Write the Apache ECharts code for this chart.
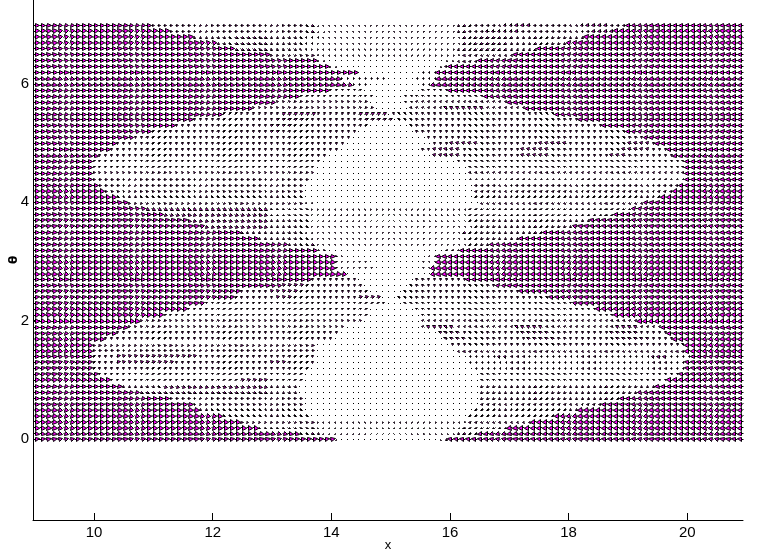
<!DOCTYPE html>
<html><head><meta charset="utf-8">
<style>html,body{margin:0;padding:0;background:#fff}#c{width:770px;height:560px}</style>
<script src="https://cdn.jsdelivr.net/npm/echarts@6/dist/echarts.min.js"></script>
</head><body><div id="c"></div>
<script>
var xTicks=[10,12,14,16,18,20];
var yTicks=[0,2,4,6];
var xMin=8.97,xMax=20.94,yMin=-1.369,yMax=7.419;
var nCols=121;
var thetaTop=7.0,thetaStep=0.1;
// arrow kinds: [|u|, v] in axis units (|u| always points toward the centre)
var kinds={
S:[.10,0],P:[.098,.01],D:[.098,-.01],
T:[.062,-.022],t:[.042,-.018],h:[.022,-.018],
M:[.062,0],m:[.045,-.003],n:[.03,0],
F:[.062,.022],f:[.04,.018],g:[.022,.018],
v:[.003,-.022],w:[.002,-.012],b:[.002,.012],
o:[.01,0],'.':[.003,0]
};
// run lengths per row, top row first. Left half runs from the left edge inward
var leftRuns=[
"D20 m26 t2 h1 v12","P23 m23 t2 h2 v11","P27 t7 T6 t6 h3 v12","P31 t3 T6 t6 h2 v13","P34 T6 t5 h2 v14",
"P40 t8 h1 v12","P48 h2 w11","P50 h2 w9","S55 o6","D52 n8 o1","D54 n3 o4","D50 f6 .5","D45 f11 g2 .3","D41 f16 b4",
"D37 f21 b3","D32 f10 F6 f7 F5 b1","P27 f14 F5 f10 F5","P24 f16 F4 f13 b4","P20 f20 F2 f13 o6","P17 f37 o7","P14 f39 o8",
"S13 f39 o9","D11 f39 o11","D10 f39 o12","D10 f38 o13","D10 f38 o13","D10 m37 .14","D11 m35 .15","D12 m34 .15","D14 m32 w15",
"P16 t30 h2 w13","P19 T21 t7 v14","P22 T18 t7 v14","P26 T14 t7 v14","P29 T11 t7 v14",
"D35 t11 h2 v13","D38 t9 h1 v13","D43 t5 v13","D48 n2 w11","D51 n2 o8","D51 n6 .4","D51 n7 .3","D53 o8","S47 f8 o6",
"P42 F4 f10 o5","P35 f5 F5 f12 o4","P34 f7 F3 f11 F4 o2","P29 f31 b1","P26 f31 o4","P22 f35 o4","S18 f38 o5","D16 f37 o8",
"D14 f38 o9","D12 f39 o10","D10 t38 o13","D10 m38 .13","P10 f4 F14 f20 .13","P10 f4 F10 f16 F3 f5 .13","P10 f37 .14","P11 f35 o15",
"P13 f22 F5 f6 o15","D15 t7 T18 t5 o16","D18 T22 t5 o16","D23 m23 o15","D27 m19 .15","D28 m18 .15","D32 m15 w14","D35 t13 v13","D38 t10 v13","D45 t4 v12","P51 h1 w9"
];
// Right half runs from the right edge inward
var rightRuns=[
"D20 m3 M5 m8 M5 m5 t3 v11","P22 M4 m12 M6 m3 t2 v11","P27 t12 T7 t2 v12","P30 t10 T6 t2 v12","P35 t5 T6 t3 v11",
"P39 t9 h1 v11","P45 t4 h2 w9","P50 m1 h1 w8","S52 n3 o5","D52 n4 o4","D53 n2 o5","D50 f5 o5","D44 f12 g2 o2","D40 f16 g2 b2",
"D37 f7 F7 f6 b3","D32 f28","P28 f31 b1","P24 f33 b3","P20 f36 b4","P17 f37 o6","P15 f1 F4 f10 F5 f10 F5 f3 o7",
"S13 f3 F5 f12 F5 f10 F5 f2 o5","D12 f8 F3 f10 F5 f10 F5 o7","D10 f39 o11","D10 f37 o13","D10 f37 o13","D10 n37 .13","D11 m35 .14","D12 m34 .14","D14 m32 w14",
"P17 t28 w15","P19 t28 v13","P22 t25 v13","P26 t21 v13","P29 t17 v14",
"D34 t14 v12","D38 t9 h1 v12","D43 t4 v13","D48 n3 w9","D52 n2 o6","D52 n3 o5","D53 n2 o5","D53 o7","S47 f9 o4",
"P42 f15 o3","P38 f20 b2","P33 f26 b1","P29 f29 b2","P25 f31 o4","P22 f33 o5","S18 f37 o5","D14 f4 F4 f12 F5 f10 F5 f1 o5",
"D13 f5 F5 f10 F5 f10 F4 o8","D12 f4 F6 f10 F5 f10 F4 o9","D10 f40 o10","D10 t39 o11","P9 n4 M3 n24 M2 n5 .13","P10 n37 .13","P10 n36 .14","P11 f34 .15",
"P13 f32 o15","D15 t30 o15","D18 t27 o15","D21 t24 o15","D24 m21 .15","D28 m18 .14","D32 m15 w13","D36 t11 h1 v12","D40 t8 v12","D45 t4 v11","P50 t1 h1 w8"
];
function expand(str,count){
  var out=[];
  str.split(' ').forEach(function(r){
    var k=r[0],n=parseInt(r.slice(1),10);
    for(var i=0;i<n;i++)out.push(k);
  });
  while(out.length<count)out.push('.');
  return out.slice(0,count);
}
var arrows=[];
var colStep=(xMax-xMin)/(nCols-1);
leftRuns.forEach(function(str,row){
  var th=thetaTop-row*thetaStep;
  var L=expand(str,61),R=expand(rightRuns[row],60);
  L.forEach(function(k,c){arrows.push([xMin+c*colStep,th,kinds[k][0],kinds[k][1]]);});
  R.forEach(function(k,j){arrows.push([xMin+(nCols-1-j)*colStep,th,-kinds[k][0],kinds[k][1]]);});
});
function renderArrow(params,api){
  var x=api.value(0),y=api.value(1),u=api.value(2),v=api.value(3);
  var a=api.coord([x,y]),b=api.coord([x+u,y+v]);
  var dx=b[0]-a[0],dy=b[1]-a[1],L=Math.sqrt(dx*dx+dy*dy);
  var r=function(p){return [Math.round(p[0])+.5,Math.round(p[1])+.5];};
  var st={stroke:'#000',lineWidth:1,fill:null};
  if(L<1.2){
    var p=r(a);
    return {type:'rect',silent:true,shape:{x:p[0]-.5,y:p[1]-.5,width:1,height:1},style:{fill:'#000'}};
  }
  var ux=dx/L,uy=dy/L,hs=.68*L,hw=.55*hs;
  var bx=b[0]-ux*hs,by=b[1]-uy*hs;
  return {type:'group',silent:true,children:[
    {type:'polyline',silent:true,shape:{points:[r(a),r([bx,by])]},style:st},
    {type:'polygon',silent:true,shape:{points:[r(b),r([bx-uy*hw,by+ux*hw]),r([bx+uy*hw,by-ux*hw])]},style:{stroke:'#000',lineWidth:1,fill:'#ff00ff'}}
  ]};
}
var labelFont='"Liberation Sans",Arial,sans-serif';
var chart=echarts.init(document.getElementById('c'),null,{renderer:'canvas'});
chart.setOption({
  animation:false,
  backgroundColor:'#fff',
  grid:{left:33,right:27,top:0,bottom:40,containLabel:false,outerBoundsMode:'none'},
  xAxis:{type:'value',min:xMin,max:xMax,name:'x',nameLocation:'middle',nameGap:19,nameMoveOverlap:false,
    nameTextStyle:{color:'#000',fontSize:13,fontFamily:labelFont},
    splitLine:{show:false},
    axisLine:{onZero:false,lineStyle:{color:'#000',width:1}},
    axisTick:{inside:true,length:7,lineStyle:{color:'#000'},customValues:xTicks},
    axisLabel:{color:'#000',fontSize:15,fontFamily:labelFont,margin:5,customValues:xTicks,hideOverlap:false,formatter:function(v){return String(v);}}},
  yAxis:{type:'value',min:yMin,max:yMax,name:'θ',nameLocation:'middle',nameGap:13,nameMoveOverlap:false,
    nameTextStyle:{color:'#000',fontSize:12,fontWeight:'bold',fontFamily:'"DejaVu Sans",sans-serif'},
    splitLine:{show:false},
    axisLine:{onZero:false,lineStyle:{color:'#000',width:1}},
    axisTick:{inside:true,length:7,lineStyle:{color:'#000'},customValues:yTicks},
    axisLabel:{color:'#000',fontSize:15,fontFamily:labelFont,margin:4,customValues:yTicks,hideOverlap:false,formatter:function(v){return String(v);}}},
  series:[{type:'custom',coordinateSystem:'cartesian2d',data:arrows,renderItem:renderArrow,clip:false,
    progressive:0,animation:false,silent:true,encode:{x:0,y:1}}]
});
</script></body></html>
